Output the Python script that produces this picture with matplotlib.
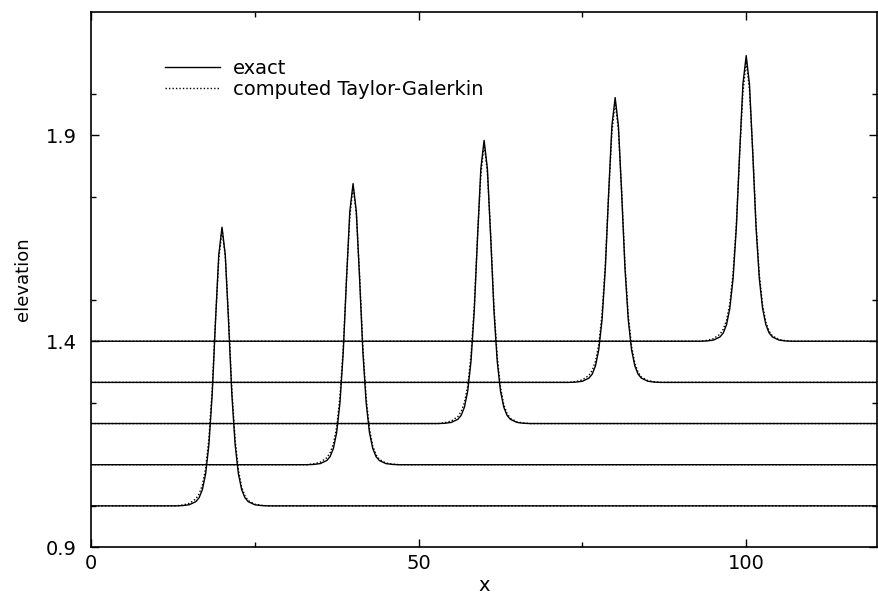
import numpy as np
import matplotlib.pyplot as plt
from matplotlib.ticker import MultipleLocator

plt.rcParams['font.family'] = ['DejaVu Sans']

# crest positions, still-water levels and crest heights
peak_x = [20, 40, 60, 80, 100]
base_y = [1.0, 1.1, 1.2, 1.3, 1.4]
crest_exact = [1.677, 1.783, 1.888, 1.992, 2.094]
crest_comp = [1.672, 1.776, 1.879, 1.981, 2.079]

# wave shape around the crest: offset in x, fraction of the wave height
offs = [-7, -6, -5, -4, -3.5, -3, -2.5, -2, -1.5, -1, -0.5, 0,
        0.5, 1, 1.5, 2, 2.5, 3, 3.5, 4, 5, 6, 7]
shape_exact = [0, 0.001, 0.004, 0.015, 0.029, 0.058, 0.115, 0.22, 0.40, 0.66, 0.90, 1,
               0.90, 0.66, 0.40, 0.22, 0.115, 0.058, 0.029, 0.015, 0.004, 0.001, 0]
shape_comp = [0, 0.003, 0.009, 0.025, 0.043, 0.075, 0.135, 0.245, 0.42, 0.67, 0.89, 1,
              0.90, 0.68, 0.42, 0.24, 0.13, 0.068, 0.036, 0.019, 0.006, 0.002, 0]

x_min, x_max = 0, 120


def wave(px, base, crest, shape):
    xs = [x_min] + [px + o for o in offs] + [x_max]
    ys = [base] + [base + (crest - base) * s for s in shape] + [base]
    return xs, ys


fig = plt.figure(figsize=(8.79, 5.96), dpi=100)
ax = fig.add_axes([0.1035, 0.0822, 0.8945, 0.8977])

for i in range(len(peak_x)):
    xe, ye = wave(peak_x[i], base_y[i], crest_exact[i], shape_exact)
    xc, yc = wave(peak_x[i], base_y[i], crest_comp[i], shape_comp)
    ax.plot(xe, ye, color='black', lw=1.0, label='exact' if i == 0 else None)
    ax.plot(xc, yc, color='black', lw=1.0, ls=(0, (1, 1.5)),
            label='computed Taylor-Galerkin' if i == 0 else None)

ax.set_xlim(x_min, x_max)
ax.set_ylim(0.9, 2.2)
ax.xaxis.set_major_locator(MultipleLocator(50))
ax.xaxis.set_minor_locator(MultipleLocator(25))
ax.yaxis.set_major_locator(MultipleLocator(0.5))
ax.yaxis.set_minor_locator(MultipleLocator(0.25))
ax.set_yticks([0.9, 1.4, 1.9])
ax.tick_params(which='both', direction='in', top=True, right=True, labelsize=14, width=1)
ax.tick_params(which='major', length=6)
ax.tick_params(which='minor', length=3.5)
ax.tick_params(axis='y', pad=10)
ax.tick_params(axis='x', pad=5)
for s in ax.spines.values():
    s.set_linewidth(1.2)

ax.set_xlabel('x', fontsize=14, labelpad=2)
ax.set_ylabel('elevation', fontsize=13, labelpad=10)

ax.legend(loc='upper left', bbox_to_anchor=(0.094, 0.912), frameon=False,
          fontsize=14, handlelength=2.85, handletextpad=0.65, labelspacing=0.1,
          borderpad=0, borderaxespad=0)

fig.savefig('out.png', dpi=100)
